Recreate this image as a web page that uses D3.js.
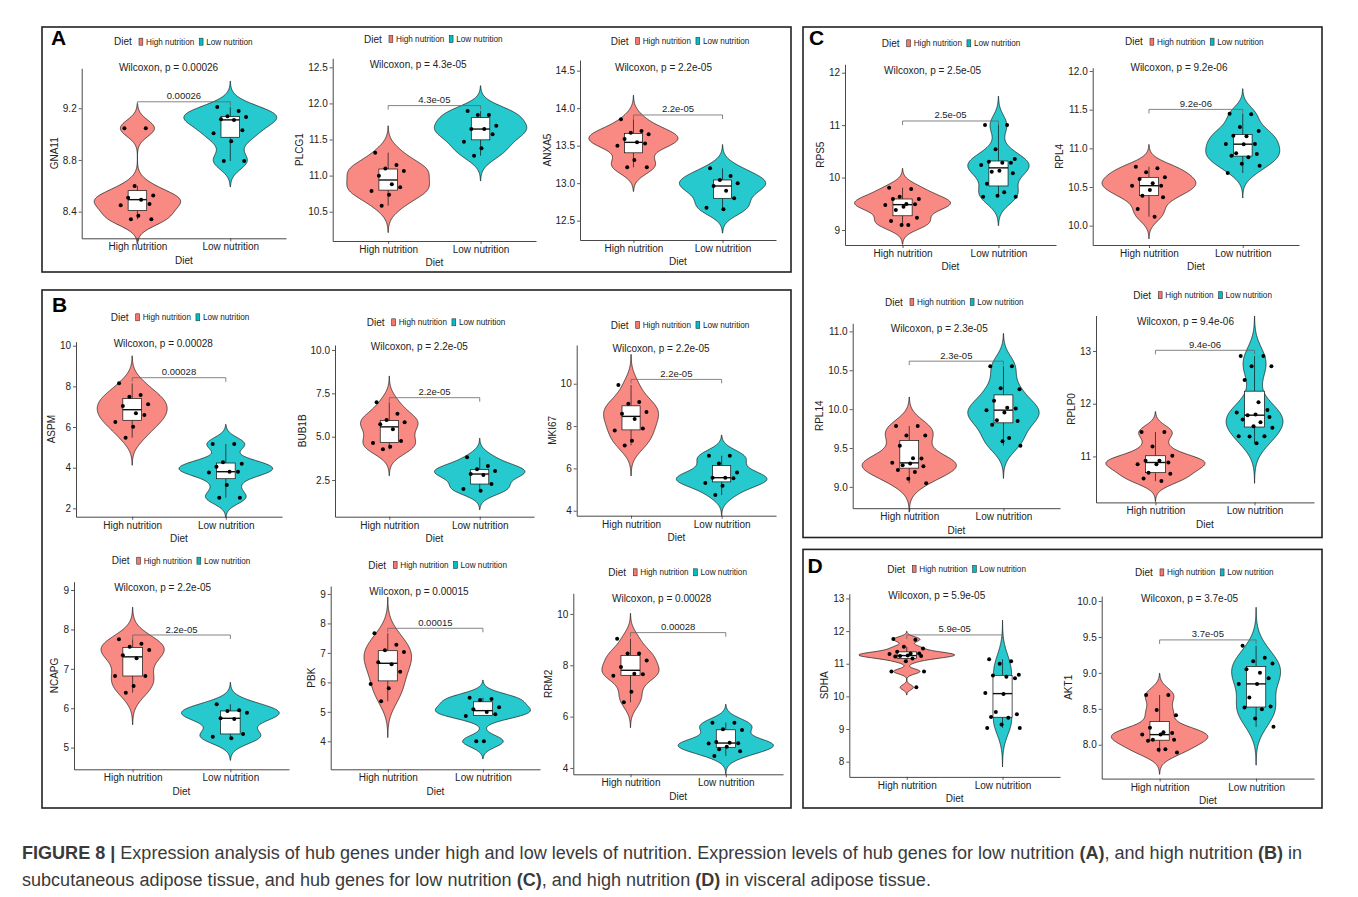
<!DOCTYPE html>
<html>
<head>
<meta charset="utf-8">
<script src="https://cdn.jsdelivr.net/npm/d3@7"></script>
<style>
  body { margin: 0; background: #fff; }
  svg { display: block; font-family: "Liberation Sans", Arial, sans-serif; }
</style>
</head>
<body>
<div id="fig"></div>
<script>
// ---- data ----
const groups = ["High nutrition", "Low nutrition"];
const fills = ["#F8766D", "#00BFC4"];

const genes = ["GNA11", "PLCG1", "ANXA5", "ASPM", "BUB1B", "MKI67", "NCAPG", "PBK", "RRM2",
               "RPS5", "RPL4", "RPL14", "RPLP0", "SDHA", "AKT1"];
const pValues = ["0.00026", "4.3e-05", "2.2e-05", "0.00028", "2.2e-05", "2.2e-05", "2.2e-05", "0.00015", "0.00028",
                 "2.5e-05", "9.2e-06", "2.3e-05", "9.4e-06", "5.9e-05", "3.7e-05"];

const gna11High = [9.045, 9.045, 8.599, 8.526, 8.508, 8.493, 8.459, 8.449, 8.369, 8.341, 8.341];
const gna11Low = [9.21, 9.179, 9.138, 9.133, 9.115, 9.11, 9.03, 9.006, 8.945, 8.792, 8.792];
const plcg1High = [11.318, 11.147, 11.1, 11.064, 10.999, 10.879, 10.837, 10.786, 10.736, 10.583];
const plcg1Low = [11.895, 11.84, 11.84, 11.69, 11.645, 11.645, 11.572, 11.47, 11.378, 11.276];
const anxa5High = [13.851, 13.696, 13.673, 13.651, 13.589, 13.544, 13.53, 13.5, 13.309, 13.211, 13.211];
const anxa5Low = [13.198, 13.096, 13.042, 12.998, 12.962, 12.9, 12.798, 12.673, 12.651];
const aspmHigh = [8.148, 7.574, 7.492, 7.115, 7.033, 6.672, 6.59, 6.246, 6.016, 5.475];
const aspmLow = [5.164, 5.164, 4.262, 4.197, 4.049, 3.803, 3.803, 3.77, 3.148, 2.525, 2.525];
const bub1bHigh = [6.98, 6.327, 5.96, 5.827, 5.71, 5.423, 4.75, 4.635, 4.423, 4.27];
const bub1bLow = [3.808, 3.308, 3.115, 3.019, 2.846, 2.788, 2.269, 1.98, 1.885];
const mki67High = [9.937, 9.134, 9.055, 8.661, 8.583, 8.331, 7.89, 7.795, 7.307, 7.087];
const mki67Low = [6.598, 6.598, 6.236, 5.811, 5.559, 5.559, 5.528, 5.307, 5.181, 4.74];
const ncapgHigh = [7.748, 7.638, 7.562, 7.478, 7.342, 7.266, 6.818, 6.818, 6.564, 6.395];
const ncapgLow = [6.099, 5.947, 5.93, 5.888, 5.744, 5.727, 5.347, 5.279, 5.237];
const pbkHigh = [7.665, 7.28, 7.088, 7.032, 6.681, 6.613, 6.364, 5.946, 5.799, 5.357];
const pbkLow = [5.482, 5.437, 5.403, 5.154, 5.086, 4.995, 4.916, 4.86, 4.0, 4.0];
const rrm2High = [9.039, 8.455, 8.455, 8.182, 7.935, 7.675, 7.649, 7.597, 6.974, 6.558];
const rrm2Low = [5.766, 5.766, 5.506, 5.48, 5.013, 4.98, 4.961, 4.95, 4.831, 4.727, 4.649, 4.468];
const rps5High = [9.807, 9.782, 9.636, 9.591, 9.591, 9.496, 9.49, 9.477, 9.445, 9.381, 9.235, 9.172, 9.095, 9.095];
const rps5Low = [11.003, 11.003, 10.538, 10.354, 10.303, 10.284, 10.284, 10.24, 10.13, 10.11, 10.08, 9.88, 9.72, 9.655, 9.636, 9.636];
const rpl4High = [10.763, 10.741, 10.69, 10.625, 10.603, 10.547, 10.517, 10.517, 10.461, 10.388, 10.366, 10.216, 10.116];
const rpl4Low = [11.448, 11.44, 11.276, 11.224, 11.164, 11.155, 11.056, 11.056, 11.052, 10.935, 10.927, 10.905, 10.884, 10.802, 10.776, 10.681];
const rpl14High = [9.783, 9.783, 9.661, 9.661, 9.53, 9.37, 9.365, 9.309, 9.3, 9.278, 9.265, 9.217, 9.191, 9.104, 9.048];
const rpl14Low = [10.552, 10.552, 10.27, 10.257, 10.109, 10.017, 10.009, 9.987, 9.957, 9.857, 9.848, 9.8, 9.63, 9.587, 9.53];
const rplp0High = [11.462, 11.462, 11.186, 11.013, 10.917, 10.917, 10.885, 10.853, 10.853, 10.692, 10.673, 10.583, 10.532];
const rplp0Low = [12.904, 12.904, 12.712, 12.712, 12.449, 12.026, 11.88, 11.833, 11.795, 11.782, 11.75, 11.699, 11.65, 11.571, 11.545, 11.385, 11.385, 11.378, 11.25];
const sdhaHigh = [11.758, 11.737, 11.52, 11.468, 11.364, 11.313, 11.313, 11.3, 11.25, 11.24, 11.24, 11.22, 11.157, 11.075, 10.764, 10.764, 10.277];
const sdhaLow = [11.137, 11.075, 11.002, 10.66, 10.64, 10.6, 10.557, 10.1, 10.07, 9.52, 9.45, 9.366, 9.346, 9.139, 9.035, 9.035];
const akt1High = [8.692, 8.692, 8.485, 8.409, 8.235, 8.174, 8.165, 8.141, 8.141, 8.071, 8.071, 8.056, 7.939, 7.929, 7.892];
const akt1Low = [9.379, 9.209, 9.162, 9.129, 9.049, 9.002, 8.927, 8.847, 8.847, 8.659, 8.532, 8.518, 8.494, 8.367, 8.249];

const highValues = [gna11High, plcg1High, anxa5High, aspmHigh, bub1bHigh, mki67High, ncapgHigh, pbkHigh, rrm2High,
                    rps5High, rpl4High, rpl14High, rplp0High, sdhaHigh, akt1High];
const lowValues = [gna11Low, plcg1Low, anxa5Low, aspmLow, bub1bLow, mki67Low, ncapgLow, pbkLow, rrm2Low,
                   rps5Low, rpl4Low, rpl14Low, rplp0Low, sdhaLow, akt1Low];

const tickLabels = [
  ["8.4", "8.8", "9.2"],
  ["10.5", "11.0", "11.5", "12.0", "12.5"],
  ["12.5", "13.0", "13.5", "14.0", "14.5"],
  ["2", "4", "6", "8", "10"],
  ["2.5", "5.0", "7.5", "10.0"],
  ["4", "6", "8", "10"],
  ["5", "6", "7", "8", "9"],
  ["4", "5", "6", "7", "8", "9"],
  ["4", "6", "8", "10"],
  ["9", "10", "11", "12"],
  ["10.0", "10.5", "11.0", "11.5", "12.0"],
  ["9.0", "9.5", "10.0", "10.5", "11.0"],
  ["11", "12", "13"],
  ["8", "9", "10", "11", "12", "13"],
  ["8.0", "8.5", "9.0", "9.5", "10.0"]
];

// ---- layout (pixels) ----
// x0/x1: x axis extent, top/bot: y axis extent, lo/hi: y domain, leg: legend anchor, wy: test label, br: bracket level
const plots = [
  {x0: 81.7, x1: 286, top: 68.3, bot: 238.3, lo: 8.194, hi: 9.509, leg: [114, 41.7], wy: 67.7, br: 9.25},
  {x0: 332.7, x1: 536, top: 58.3, bot: 241, lo: 10.094, hi: 12.625, leg: [364, 39], wy: 64.3, br: 11.97},
  {x0: 580, x1: 776, top: 60, bot: 240, lo: 12.242, hi: 14.642, leg: [610.7, 41], wy: 67.7, br: 13.909},
  {x0: 76, x1: 282, top: 341.7, bot: 516.7, lo: 1.59, hi: 10.197, leg: [110.7, 317.3], wy: 343.3, br: 8.426},
  {x0: 335, x1: 534, top: 345, bot: 516.7, lo: 0.385, hi: 10.288, leg: [366.7, 322.3], wy: 346.7, br: 7.25},
  {x0: 576.7, x1: 776, top: 345, bot: 515.7, lo: 3.764, hi: 11.83, leg: [610.7, 325], wy: 348.3, br: 10.205},
  {x0: 74, x1: 289, top: 581.7, bot: 769.3, lo: 4.45, hi: 9.211, leg: [111.7, 560.7], wy: 587.3, br: 7.858},
  {x0: 330.7, x1: 540, top: 586, bot: 769.3, lo: 3.05, hi: 9.27, leg: [368.3, 565], wy: 591.7, br: 7.835},
  {x0: 573.3, x1: 783, top: 593.3, bot: 774.3, lo: 3.753, hi: 10.805, leg: [608.3, 572.3], wy: 598.3, br: 9.273},
  {x0: 845, x1: 1056, top: 64.3, bot: 245, lo: 8.714, hi: 12.16, leg: [881.7, 43.3], wy: 70, br: 11.079},
  {x0: 1092.7, x1: 1299, top: 67.7, bot: 245, lo: 9.75, hi: 12.043, leg: [1125, 41.7], wy: 67.7, br: 11.504},
  {x0: 852.7, x1: 1060, top: 323.3, bot: 508.2, lo: 8.726, hi: 11.104, leg: [885, 302], wy: 328, br: 10.617},
  {x0: 1096, x1: 1314, top: 315.5, bot: 502.4, lo: 10.128, hi: 13.673, leg: [1133.3, 295.2], wy: 321.2, br: 13.013},
  {x0: 849.3, x1: 1060, top: 593.7, bot: 776.9, lo: 7.534, hi: 13.145, leg: [887.3, 569], wy: 595, br: 11.882},
  {x0: 1101.7, x1: 1314, top: 596, bot: 778.6, lo: 7.529, hi: 10.07, leg: [1135, 572.4], wy: 598.4, br: 9.459}
];

const frames = [
  {label: "A", x: 42, y: 27, w: 749, h: 245, lx: 51, ly: 45},
  {label: "B", x: 42, y: 290, w: 749, h: 518, lx: 52, ly: 312},
  {label: "C", x: 803, y: 27, w: 519, h: 510.5, lx: 809, ly: 45},
  {label: "D", x: 803, y: 549.4, w: 519, h: 258.6, lx: 807.5, ly: 572.5}
];

// fixed jitter offsets (fraction of the jitter width)
const jit = [-0.7, 0.45, -0.15, 0.85, -0.5, 0.2, 0.65, -0.9, 0.05, -0.35, 0.75, -0.6, 0.3, -0.05, 0.9, -0.8, 0.5, -0.25, 0.1];

const svg = d3.select("#fig").append("svg")
    .attr("width", 1358)
    .attr("height", 897);

svg.append("rect").attr("width", 1358).attr("height", 897).attr("fill", "#fff");

frames.forEach(f => {
    svg.append("rect")
        .attr("x", f.x).attr("y", f.y).attr("width", f.w).attr("height", f.h)
        .attr("fill", "none").attr("stroke", "#222").attr("stroke-width", 1.6);
    svg.append("text")
        .attr("x", f.lx).attr("y", f.ly)
        .attr("font-size", 21).attr("font-weight", "bold").attr("fill", "#000")
        .text(f.label);
});

// R's nrd0 bandwidth and a gaussian density, cut at 3 bandwidths like ggplot's violin
function nrd0(v) {
    let s = d3.deviation(v);
    let q = (d3.quantile(v, 0.75) - d3.quantile(v, 0.25)) / 1.34;
    let lo = Math.min(s, q) || s || 1;
    return 0.9 * lo * Math.pow(v.length, -0.2);
}

function kde(v) {
    let bw = nrd0(v);
    let a = d3.min(v) - 3 * bw, b = d3.max(v) + 3 * bw;
    return d3.range(241).map(i => {
        let t = a + (b - a) * i / 240;
        let d = d3.mean(v, x => Math.exp(-0.5 * ((t - x) / bw) ** 2)) / (bw * Math.sqrt(2 * Math.PI));
        return [t, d];
    });
}

function drawPlot(i) {
    let L = plots[i];
    let g = svg.append("g");

    let x = d3.scalePoint().domain(groups).range([L.x0, L.x1]).padding(0.6);
    let y = d3.scaleLinear().domain([L.lo, L.hi]).range([L.bot, L.top]);
    let step = x.step();

    let sets = [highValues[i], lowValues[i]];
    let dens = sets.map(kde);
    let maxD = d3.max(dens, d => d3.max(d, p => p[1]));
    let w = d3.scaleLinear().domain([0, maxD]).range([0, step * 0.5]);

    sets.forEach((v, k) => {
        let cx = x(groups[k]);
        // violin
        g.append("path")
            .datum(dens[k])
            .attr("d", d3.area().y(p => y(p[0])).x0(p => cx - w(p[1])).x1(p => cx + w(p[1])))
            .attr("fill", fills[k]).attr("fill-opacity", 0.85)
            .attr("stroke", "#111").attr("stroke-width", 0.7);

        // box
        let s = v.slice().sort(d3.ascending);
        let q1 = d3.quantile(s, 0.25), md = d3.quantile(s, 0.5), q3 = d3.quantile(s, 0.75);
        let iqr = q3 - q1;
        let wl = d3.min(s.filter(t => t >= q1 - 1.5 * iqr));
        let wh = d3.max(s.filter(t => t <= q3 + 1.5 * iqr));
        let bw = step * 0.2;
        g.append("line").attr("x1", cx).attr("x2", cx).attr("y1", y(wh)).attr("y2", y(q3))
            .attr("stroke", "#111").attr("stroke-width", 0.7);
        g.append("line").attr("x1", cx).attr("x2", cx).attr("y1", y(q1)).attr("y2", y(wl))
            .attr("stroke", "#111").attr("stroke-width", 0.7);
        g.append("rect")
            .attr("x", cx - bw / 2).attr("y", y(q3))
            .attr("width", bw).attr("height", y(q1) - y(q3))
            .attr("fill", "#fff").attr("stroke", "#111").attr("stroke-width", 0.7);
        g.append("line").attr("x1", cx - bw / 2).attr("x2", cx + bw / 2).attr("y1", y(md)).attr("y2", y(md))
            .attr("stroke", "#111").attr("stroke-width", 1.4);

        // jittered points
        g.selectAll(null).data(v).enter().append("circle")
            .attr("cx", (t, j) => cx + jit[j % jit.length] * step * 0.2)
            .attr("cy", t => y(t))
            .attr("r", 2)
            .attr("fill", "#000");
    });

    // axes
    let labels = tickLabels[i];
    let ya = g.append("g").attr("transform", `translate(${L.x0},0)`)
        .call(d3.axisLeft(y).tickValues(labels.map(Number)).tickFormat((d, j) => labels[j])
            .tickSize(3).tickPadding(2).tickSizeOuter(0));
    let xa = g.append("g").attr("transform", `translate(0,${L.bot})`)
        .call(d3.axisBottom(x).tickSize(3).tickPadding(2).tickSizeOuter(0));
    [ya, xa].forEach(a => {
        a.select(".domain").attr("stroke", "#333").attr("stroke-width", 0.9);
        a.selectAll(".tick line").attr("stroke", "#333").attr("stroke-width", 0.8);
        a.selectAll(".tick text").attr("font-size", 10).attr("fill", "#222")
            .attr("font-family", "Liberation Sans, Arial, sans-serif");
    });

    let maxTick = d3.max(ya.selectAll(".tick text").nodes(), n => n.getComputedTextLength());
    let tx = L.x0 - 5 - maxTick - 5;
    g.append("text")
        .attr("transform", `translate(${tx},${(L.top + L.bot) / 2}) rotate(-90)`)
        .attr("text-anchor", "middle").attr("font-size", 10).attr("fill", "#222")
        .text(genes[i]);
    g.append("text")
        .attr("x", (L.x0 + L.x1) / 2).attr("y", L.bot + 25.3)
        .attr("text-anchor", "middle").attr("font-size", 10).attr("fill", "#222")
        .text("Diet");

    // test label and bracket
    let hx = x(groups[0]), lx = x(groups[1]);
    g.append("text")
        .attr("x", hx - 18.5).attr("y", L.wy + 3.5)
        .attr("font-size", 10).attr("fill", "#222")
        .text("Wilcoxon, p = " + pValues[i]);
    let by = y(L.br);
    g.append("path")
        .attr("d", `M${hx},${by + 4}V${by}H${lx}V${by + 4}`)
        .attr("fill", "none").attr("stroke", "#666").attr("stroke-width", 0.8);
    g.append("text")
        .attr("x", (hx + lx) / 2).attr("y", by - 2.5)
        .attr("text-anchor", "middle").attr("font-size", 9.5).attr("fill", "#222")
        .text(pValues[i]);

    // legend
    let [gx, gy] = L.leg;
    g.append("text").attr("x", gx).attr("y", gy + 3.5).attr("font-size", 10).attr("fill", "#222").text("Diet");
    let kx = gx + 25;
    groups.forEach((name, k) => {
        g.append("rect").attr("x", kx).attr("y", gy - 3.5).attr("width", 3.8).attr("height", 7)
            .attr("fill", fills[k]).attr("stroke", "#333").attr("stroke-width", 0.6);
        let t = g.append("text").attr("x", kx + 7).attr("y", gy + 3)
            .attr("font-size", 8.2).attr("fill", "#222").text(name);
        kx = kx + 7 + t.node().getComputedTextLength() + 5;
    });
}

genes.forEach((gene, i) => drawPlot(i));

// caption
const cap1 = [
  ["FIGURE 8 | ", true],
  ["Expression analysis of hub genes under high and low levels of nutrition. Expression levels of hub genes for low nutrition ", false],
  ["(A)", true], [", and high nutrition ", false], ["(B)", true], [" in", false]
];
const cap2 = [
  ["subcutaneous adipose tissue, and hub genes for low nutrition ", false],
  ["(C)", true], [", and high nutrition ", false], ["(D)", true], [" in visceral adipose tissue.", false]
];

function captionLine(parts, yy) {
    let t = svg.append("text").attr("x", 22).attr("y", yy)
        .attr("font-size", 16).attr("fill", "#3a3a3a");
    parts.forEach(p => t.append("tspan").attr("font-weight", p[1] ? "bold" : "normal").text(p[0]));
    return t;
}
let c1 = captionLine(cap1, 859);
let c2 = captionLine(cap2, 886);
let fs = 16 * 1281 / c1.node().getComputedTextLength();
c1.attr("font-size", fs);
c2.attr("font-size", fs);
</script>
</body>
</html>
